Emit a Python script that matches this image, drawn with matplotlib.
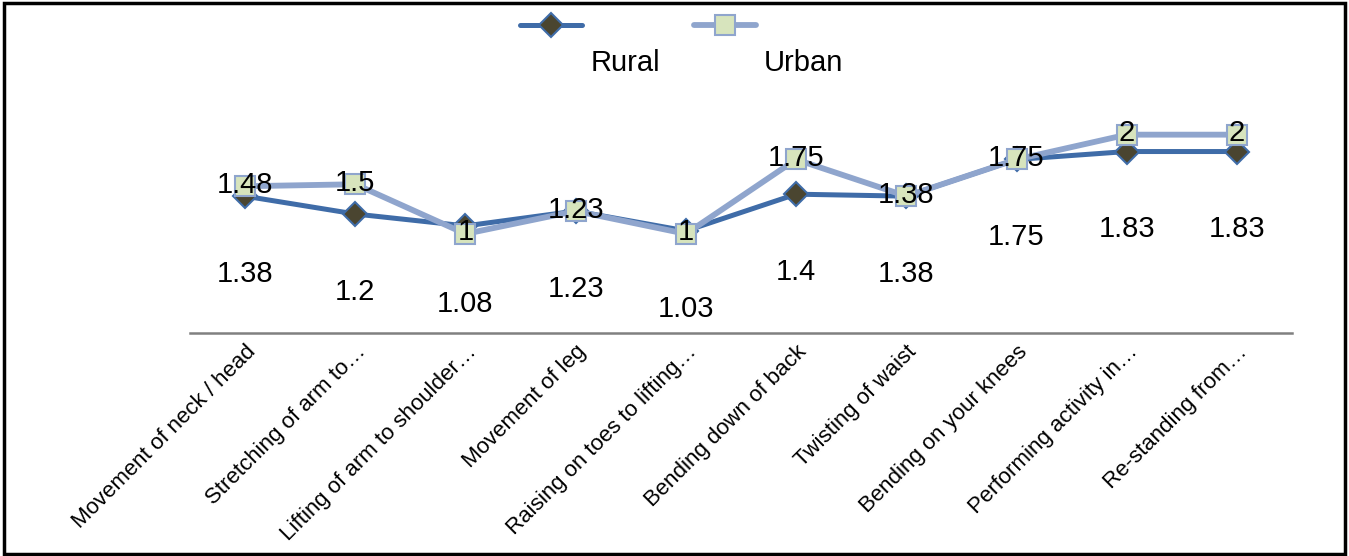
import matplotlib.pyplot as plt
from matplotlib.lines import Line2D
from matplotlib.patches import Rectangle

plt.rcParams['font.family'] = ['Liberation Sans', 'DejaVu Sans']

# categories and values
activities = ["Movement of neck / head", "Stretching of arm to\u2026",
              "Lifting of arm to shoulder\u2026", "Movement of leg",
              "Raising on toes to lifting\u2026", "Bending down of back",
              "Twisting of waist", "Bending on your knees",
              "Performing activity in\u2026", "Re-standing from\u2026"]
rural = [1.38, 1.2, 1.08, 1.23, 1.03, 1.4, 1.38, 1.75, 1.83, 1.83]
urban = [1.48, 1.5, 1, 1.23, 1, 1.75, 1.38, 1.75, 2, 2]

rural_line = "#3F6CA8"
rural_fill = "#4A4530"
urban_line = "#8FA5CD"
urban_fill = "#D7E4BD"

fig = plt.figure(figsize=(13.49, 5.56), dpi=100)
ax = fig.add_axes([0.1408, 0.401, 0.8170, 0.446])

x = list(range(len(activities)))
ax.plot(x, rural, color=rural_line, lw=3.6, marker="D", ms=12,
        mfc=rural_fill, mec=rural_line, mew=1.5, zorder=3)
ax.plot(x, urban, color=urban_line, lw=4.2, marker="s", ms=15,
        mfc=urban_fill, mec=urban_line, mew=1.5, zorder=4)

# data labels: urban on the point, rural well below it
for xi, v in zip(x, urban):
    ax.annotate(f"{v:g}", (xi, v), xytext=(0, 1), textcoords="offset points",
                ha="center", va="center", fontsize=21, zorder=5)
for xi, v in zip(x, rural):
    ax.annotate(f"{v:g}", (xi, v), xytext=(0, -56), textcoords="offset points",
                ha="center", va="center", fontsize=21, zorder=5)

ax.set_xlim(-0.5, len(activities) - 0.5)
ax.set_ylim(0, 2.5)
for s in ["top", "right", "left"]:
    ax.spines[s].set_visible(False)
ax.spines["bottom"].set_color("#808080")
ax.spines["bottom"].set_linewidth(1.8)
ax.set_yticks([])
ax.set_xticks(x)
ax.set_xticklabels(activities, rotation=45, ha="right", rotation_mode="anchor",
                   fontsize=16)
ax.tick_params(axis="x", length=0, pad=6)

# legend: handle above, label below-right
for hx, lbl, lc, fc, mk, ms, lw in [(0.3855, "Rural", rural_line, rural_fill, "D", 12, 3.6),
                                    (0.5145, "Urban", urban_line, urban_fill, "s", 15, 4.2)]:
    fig.add_artist(Line2D([hx, hx + 0.046], [0.955, 0.955], color=lc, lw=lw,
                          solid_capstyle="round", transform=fig.transFigure))
    fig.add_artist(Line2D([hx + 0.023], [0.955], marker=mk, ms=ms, mfc=fc,
                          mec=lc, mew=1.5, transform=fig.transFigure))
    fig.text(hx + 0.052, 0.886, lbl, fontsize=21, va="center", ha="left")

fig.add_artist(Rectangle((0.003, 0.004), 0.994, 0.991, fill=False,
                         edgecolor="black", lw=2.5, transform=fig.transFigure))

fig.savefig("out.png", dpi=100)
